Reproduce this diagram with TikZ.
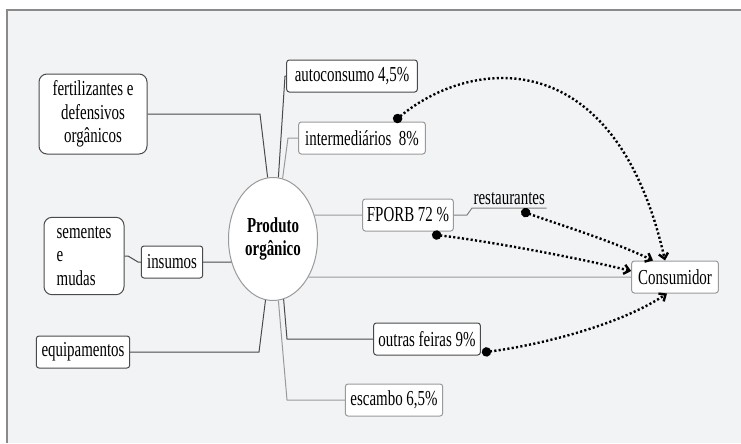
\documentclass[tikz,border=0pt]{standalone}
\usepackage{fontspec}
\setmainfont{Liberation Serif}[FakeStretch=0.70]
\usetikzlibrary{arrows.meta,shapes.geometric,calc}
\definecolor{paper}{HTML}{F2F3F4}
\definecolor{frame}{HTML}{8A8A8A}
\definecolor{darkedge}{HTML}{4A4A4A}
\definecolor{lightedge}{HTML}{9A9A9A}
\tikzset{
	basic/.style  = {draw=darkedge, fill=white, rounded corners=2pt, line width=0.75pt,
		font=\fontsize{16}{17.5}\selectfont, minimum height=24pt, inner xsep=3pt, inner ysep=1pt},
	pale/.style   = {basic, draw=lightedge},
	group/.style  = {basic, rounded corners=6pt, inner ysep=2pt},
	root/.style   = {ellipse, draw=lightedge, fill=white, line width=0.75pt, align=center,
		font=\fontsize{16}{17.5}\selectfont\bfseries, minimum width=66.75pt, minimum height=92.25pt, inner sep=0pt},
	dark edge/.style = {draw=darkedge, line width=0.75pt},
	pale edge/.style = {draw=lightedge, line width=0.75pt},
	flow/.style   = {draw=black, line width=1.8pt, dash pattern=on 1.6pt off 1.7pt,
		{Circle[length=7pt]}-{Straight Barb[length=4pt,width=7pt]}}
}

\begin{document}
\begin{tikzpicture}[x=0.75pt, y=-0.75pt]
\useasboundingbox (0,0) rectangle (741,443);
% sheet
\fill[paper] (7,10) rectangle (741,443);
\draw[frame, line width=1.5pt] (741,10) -- (7,10) -- (7,443);

% central topic
\node[root] (prod) at (273,239) {Produto\\orgânico};

% inputs on the left
\node[group, minimum width=81pt, minimum height=60pt, align=center] (fert) at (93,114) {fertilizantes e\\defensivos\\orgânicos};
\node[group, minimum width=60pt, minimum height=58pt, align=left] (sem) at (84,256) {sementes\\e\\mudas};
\node[basic, minimum width=46pt] (ins) at (172,262) {insumos};
\node[basic, minimum width=70pt] (equip) at (83,352) {equipamentos};

% outlets on the right
\node[basic, minimum width=98pt] (auto) at (352,76) {autoconsumo 4,5\%};
\node[pale, minimum width=95pt] (inter) at (362,138) {intermediários\ \ 8\%};
\node[pale, minimum width=68pt] (fporb) at (408,215) {FPORB 72 \%};
\node[font=\fontsize{16}{17.5}\selectfont, inner xsep=1pt, inner ysep=2pt, anchor=south west] (rest) at (472,208) {restaurantes};
\node[basic, minimum width=80pt] (outras) at (427,339) {outras feiras 9\%};
\node[pale, minimum width=73pt] (esc) at (394,400) {escambo 6,5\%};
\node[pale, minimum width=65pt] (cons) at (675,277) {Consumidor};

% branches
\draw[dark edge] (fert.east) -- (260,114) -- (prod.95);
\draw[dark edge] (sem.east) -- (128,256) -- (138,262) -- (ins.west);
\draw[dark edge] (ins.east) -- (prod.209);
\draw[dark edge] (equip.east) -- (259,352) -- (prod.-97);
\draw[dark edge] (auto.west) -- (285,76) -- (prod.85);
\draw[pale edge] (inter.west) -- (288,138) -- (prod.81);
\draw[pale edge] (prod.30) -- (fporb.west);
\draw[pale edge] (prod.-47) -- (cons.west);
\draw[dark edge] (prod.-80) -- (287,339) -- (outras.west);
\draw[pale edge] (prod.-85) -- (287,400) -- (esc.west);
\draw[draw=gray, line width=0.75pt] (fporb.east) -- (467,215) -- (rest.south west) -- (rest.south east);

% flows to the consumer
\draw[flow] ($(inter.north)+(32,0)$) .. controls (470,58) and (615,40) .. ($(cons.north)+(-10,0)$);
\draw[flow] ($(rest.south)+(12,3)$) .. controls (560,225) and (610,240) .. ($(cons.north)+(-22,0)$);
\draw[flow] ($(fporb.south)+(24,3)$) .. controls (480,240) and (570,256) .. ($(cons.west)+(0,-6)$);
\draw[flow] ($(outras.south east)+(1,-3)$) .. controls (540,345) and (620,325) .. ($(cons.south)+(-8,0)$);
\end{tikzpicture}
\end{document}
